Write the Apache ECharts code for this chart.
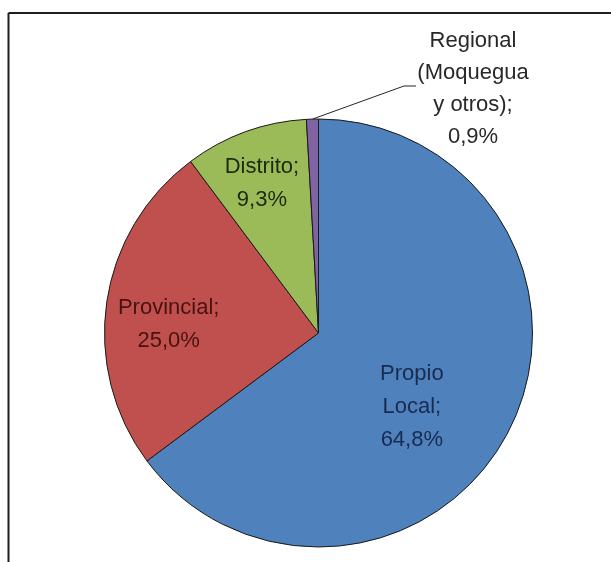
<!DOCTYPE html>
<html>
<head>
<meta charset="utf-8">
<script src="https://cdn.jsdelivr.net/npm/echarts@6/dist/echarts.min.js"></script>
<style>
  html, body { margin: 0; padding: 0; background: #ffffff; }
  #chart { width: 611px; height: 562px; }
</style>
</head>
<body>
<div id="chart"></div>
<script>
// Origen del financiamiento (participación %)
const categories = ['Propio Local', 'Provincial', 'Distrito', 'Regional (Moquegua y otros)'];
const labelNames = ['Propio\nLocal;', 'Provincial;', 'Distrito;', 'Regional\n(Moquegua\ny otros);'];
const shares = [64.8, 25.0, 9.3, 0.9];

// Styling
const sliceColors = ['#4F81BD', '#C0504D', '#9BBB59', '#8064A2'];
const textColors = ['#1a2b50', '#461310', '#1e290d', '#282828'];
// shift of the inside labels from the library's default inside spot
const insideOffsets = [[-5, 25], [-41, 7], [-19, -46]];

const CX = 318.5, CY = 333, R = 214;
const FONT = "'Liberation Sans', Arial, sans-serif";
const fmtPct = v => v.toFixed(1).replace('.', ',') + '%';

const total = shares.reduce((a, b) => a + b, 0);

const chart = echarts.init(document.getElementById('chart'), null, { renderer: 'canvas' });

const data = shares.map((v, i) => {
  const inside = i < 3;
  return {
    name: categories[i],
    value: v,
    itemStyle: { color: sliceColors[i] },
    label: inside
      ? { position: 'inside', offset: insideOffsets[i], color: textColors[i], lineHeight: 33,
          formatter: labelNames[i] + '\n' + fmtPct(v) }
      : { position: 'outside', color: textColors[i], lineHeight: 32,
          formatter: labelNames[i] + '\n' + fmtPct(v) },
    labelLine: inside
      ? { show: false }
      : { show: true, length: 20, length2: 10, lineStyle: { color: '#262626', width: 1 } }
  };
});

chart.setOption({
  animation: false,
  backgroundColor: '#ffffff',
  graphic: [
    { type: 'line', shape: { x1: 8.5, y1: 13, x2: 611, y2: 13 },
      style: { stroke: '#1e1e1e', lineWidth: 2 } },
    { type: 'line', shape: { x1: 8.5, y1: 13, x2: 8.5, y2: 562 },
      style: { stroke: '#1e1e1e', lineWidth: 2 } }
  ],
  series: [{
    type: 'pie',
    center: [CX, CY],
    radius: R,
    startAngle: 90,
    clockwise: true,
    avoidLabelOverlap: false,
    silent: true,
    emphasis: { disabled: true },
    itemStyle: { borderColor: '#1a1a1a', borderWidth: 1 },
    label: { fontFamily: FONT, fontSize: 22 },
    data: data,
    labelLayout: function (params) {
      if (params.dataIndex !== 3) return;
      // leader starts on the rim at the middle of the small slice
      let before = 0;
      for (let k = 0; k < 3; k++) before += shares[k];
      const midFrac = (before + shares[3] / 2) / total;
      const ang = (90 - midFrac * 360) * Math.PI / 180;
      const p0 = [CX + R * Math.cos(ang), CY - R * Math.sin(ang)];
      return {
        x: 473, y: 89, align: 'center', verticalAlign: 'middle',
        labelLinePoints: [p0, [404, 86], [416, 86]]
      };
    }
  }]
});
</script>
</body>
</html>
